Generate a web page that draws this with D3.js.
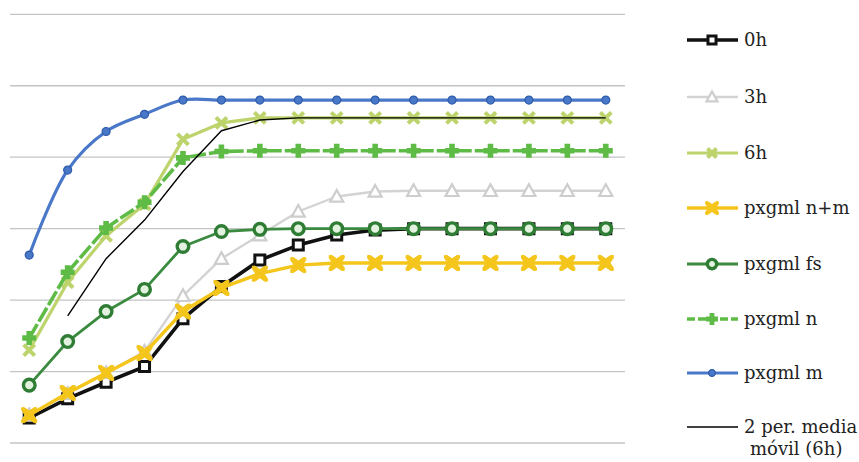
<!DOCTYPE html>
<html>
<head>
<meta charset="utf-8">
<script src="https://cdn.jsdelivr.net/npm/d3@7"></script>
<style>
  html, body { margin: 0; padding: 0; background: #fff; }
  svg { display: block; }
  .legtext { font-family: "DejaVu Serif", serif; font-size: 18px; fill: #222; }
</style>
</head>
<body>
<svg id="chart" width="859" height="462"></svg>
<script>
// ---- data ----
const categories = [1, 2, 3, 4, 5, 6, 7, 8, 9, 10, 11, 12, 13, 14, 15, 16];
const gridTicks = [0, 10, 20, 30, 40, 50, 60];

const s0h    = [3.5, 6.2, 8.5, 10.7, 17.4, 21.9, 25.6, 27.7, 29.1, 29.8, 30.0, 30.0, 30.0, 30.0, 30.0, 30.0];
const s3h    = [3.9, 6.9, 9.8, 12.8, 20.6, 25.8, 29.1, 32.4, 34.5, 35.2, 35.3, 35.3, 35.3, 35.3, 35.3, 35.3];
const s6h    = [13.0, 22.5, 29.0, 33.4, 42.5, 44.8, 45.5, 45.5, 45.5, 45.5, 45.5, 45.5, 45.5, 45.5, 45.5, 45.5];
const sNM    = [3.9, 7.0, 9.8, 12.6, 18.4, 21.7, 23.7, 24.9, 25.2, 25.2, 25.2, 25.2, 25.2, 25.2, 25.2, 25.2];
const sFS    = [8.1, 14.2, 18.4, 21.5, 27.5, 29.6, 29.9, 30.0, 30.0, 30.0, 30.0, 30.0, 30.0, 30.0, 30.0, 30.0];
const sN     = [14.7, 23.9, 30.1, 33.7, 39.9, 40.8, 40.9, 40.9, 40.9, 40.9, 40.9, 40.9, 40.9, 40.9, 40.9, 40.9];
const sM     = [26.3, 38.2, 43.6, 46.0, 48.0, 48.0, 48.0, 48.0, 48.0, 48.0, 48.0, 48.0, 48.0, 48.0, 48.0, 48.0];
const sMA    = [null, 17.8, 25.8, 31.2, 38.0, 43.7, 45.2, 45.5, 45.5, 45.5, 45.5, 45.5, 45.5, 45.5, 45.5, 45.5];

const seriesNames = ["0h", "3h", "6h", "pxgml n+m", "pxgml fs", "pxgml n", "pxgml m", "2 per. media\nmóvil (6h)"];
const seriesValues = [s0h, s3h, s6h, sNM, sFS, sN, sM, sMA];

// ---- styles ----
const styles = [
  { color: "#111111", width: 3.6, marker: "square",   mfill: "#ffffff", mstroke: "#111111", msw: 3,   msize: 13 },
  { color: "#d3d3d3", width: 2.4, marker: "triangle", mfill: "#ffffff", mstroke: "#cdcdcd", msw: 2.2, msize: 13 },
  { color: "#bdd46c", width: 3.2, marker: "x",        mfill: "none",    mstroke: "#bdd46c", msw: 4,   msize: 13 },
  { color: "#f4c61c", width: 3.4, marker: "bowtie",   mfill: "#f4c61c", mstroke: "#f4c61c", msw: 1,   msize: 15 },
  { color: "#3a8a3f", width: 2.8, marker: "circle",   mfill: "#e3f2df", mstroke: "#2f7d35", msw: 3.4, msize: 15 },
  { color: "#5dbb46", width: 3.6, marker: "plus",     mfill: "#5dbb46", mstroke: "#5dbb46", msw: 0,   msize: 14, dash: "16,3" },
  { color: "#4a78c8", width: 3.2, marker: "dot",      mfill: "#4a78c8", mstroke: "#2f5cab", msw: 1.2, msize: 8, smooth: true },
  { color: "#000000", width: 1.4, marker: null }
];

const svg = d3.select("#chart");
const x = d3.scalePoint().domain(categories).range([10, 625]).padding(0.5);
const y = d3.scaleLinear().domain([0, 60]).range([443, 14.3]);

// gridlines
svg.append("g").selectAll("line").data(gridTicks).join("line")
  .attr("x1", 10).attr("x2", 625)
  .attr("y1", d => y(d)).attr("y2", d => y(d))
  .attr("stroke", "#c4c4c4").attr("stroke-width", 1.3);

function markerPath(type, s) {
  const h = s / 2;
  switch (type) {
    case "square": return `M${-h+1.5},${-h+1.5}H${h-1.5}V${h-1.5}H${-h+1.5}Z`;
    case "triangle": return `M0,${-h}L${h},${h*0.8}L${-h},${h*0.8}Z`;
    case "x": return `M${-h+1},${-h+1}L${h-1},${h-1}M${h-1},${-h+1}L${-h+1},${h-1}`;
    case "bowtie": {
      const a = h, b = h * 0.55, c = h * 0.35;
      return `M${-a},${-a}H${-a+c}L0,${-b}L${a-c},${-a}H${a}V${-a+c}L${b},0L${a},${a-c}V${a}H${a-c}L0,${b}L${-a+c},${a}H${-a}V${a-c}L${-b},0L${-a},${-a+c}Z`;
    }
    case "plus": {
      const t = s * 0.2;
      return `M${-t},${-h}H${t}V${-t}H${h}V${t}H${t}V${h}H${-t}V${t}H${-h}V${-t}H${-t}Z`;
    }
    case "circle": return d3.symbol(d3.symbolCircle, Math.PI * (h - 1.7) * (h - 1.7))();
    case "dot": return d3.symbol(d3.symbolCircle, Math.PI * h * h)();
  }
  return "";
}

const plot = svg.append("g");
seriesValues.forEach((vals, si) => {
  const st = styles[si];
  const pts = categories.map((c, i) => ({ c, v: vals[i] }));
  const line = d3.line()
    .defined(d => d.v !== null)
    .x(d => x(d.c)).y(d => y(d.v))
    .curve(st.smooth ? d3.curveCatmullRom.alpha(0.5) : d3.curveLinear);
  const g = plot.append("g");
  g.append("path").datum(pts)
    .attr("d", line)
    .attr("fill", "none")
    .attr("stroke", st.color)
    .attr("stroke-width", st.width)
    .attr("stroke-linejoin", "round")
    .attr("stroke-dasharray", st.dash || null);
  if (st.marker) {
    g.selectAll("path.m").data(pts.filter(d => d.v !== null)).join("path")
      .attr("class", "m")
      .attr("transform", d => `translate(${x(d.c)},${y(d.v)})`)
      .attr("d", markerPath(st.marker, st.msize))
      .attr("fill", st.mfill)
      .attr("stroke", st.msw ? st.mstroke : "none")
      .attr("stroke-width", st.msw);
  }
});

// legend
const legendY = [40, 97, 153, 208, 264, 319, 373, 427];
const leg = svg.append("g");
seriesNames.forEach((name, si) => {
  const st = styles[si];
  const ly = legendY[si];
  const g = leg.append("g").attr("transform", `translate(0,${ly})`);
  g.append("line").attr("x1", 687).attr("x2", 738).attr("y1", 0).attr("y2", 0)
    .attr("stroke", st.color).attr("stroke-width", st.width)
    .attr("stroke-dasharray", st.dash ? "8,3" : null);
  if (st.marker) {
    g.append("path").attr("transform", "translate(712,0)")
      .attr("d", markerPath(st.marker, st.msize * 0.85))
      .attr("fill", st.mfill)
      .attr("stroke", st.msw ? st.mstroke : "none")
      .attr("stroke-width", st.msw);
  }
  const lines = name.split("\n");
  const t = g.append("text").attr("class", "legtext")
    .attr("x", 744).attr("y", 0);
  lines.forEach((ln, li) => {
    t.append("tspan").attr("x", li === 0 ? 744 : 750)
      .attr("dy", li === 0 ? "0.35em" : "1.2em").text(ln);
  });
});
</script>
</body>
</html>
